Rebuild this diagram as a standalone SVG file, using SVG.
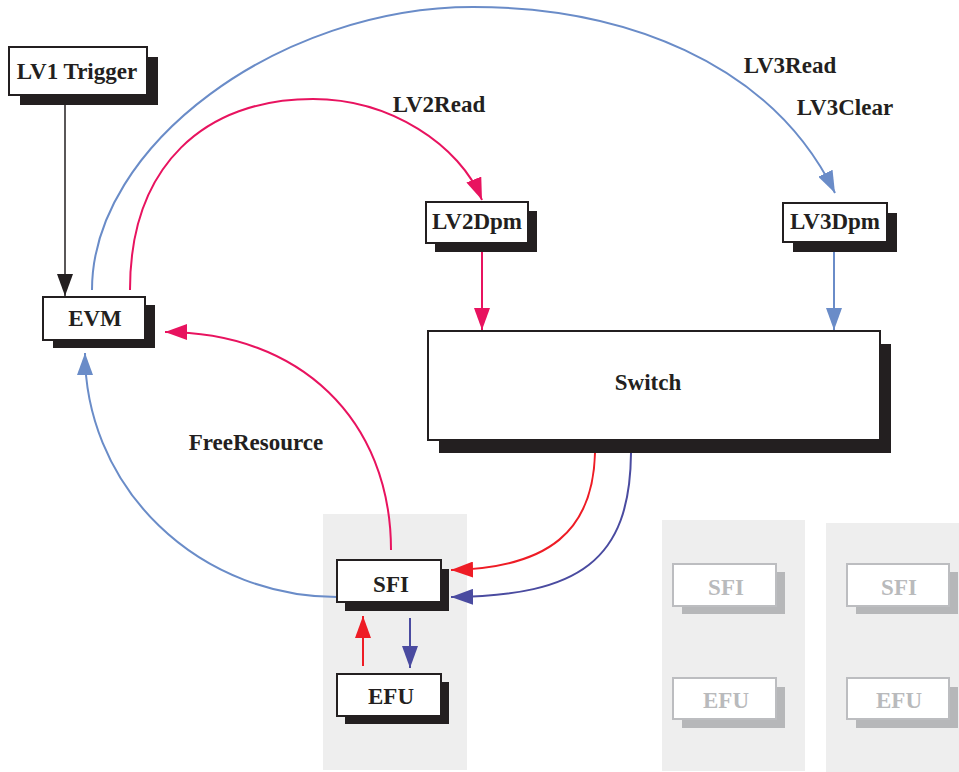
<svg xmlns="http://www.w3.org/2000/svg" width="959" height="772" viewBox="0 0 959 772">
  <style>
    .lbl { font-family: "Liberation Serif", "Times New Roman", serif; font-weight: bold; font-size: 23px; fill: #231f20; text-anchor: middle; }
    .dim { fill: #b9babc; }
    .front { fill: #ffffff; stroke: #231f20; stroke-width: 2; }
    .shadow { fill: #231f20; }
    .gfront { fill: #ffffff; stroke: #bcbdc0; stroke-width: 2; }
    .gshadow { fill: #b6b7b9; }
    .panel { fill: #eeeeee; }
    .c { fill: none; stroke-width: 2; }
    .k { stroke: #231f20; stroke-width: 1.5; }
    .b { stroke: #6a8cc8; }
    .p { stroke: #e8135f; }
    .r { stroke: #ee1c25; }
    .v { stroke: #4a4ba0; }
  </style>
  <defs>
    <marker id="ak" markerUnits="userSpaceOnUse" markerWidth="22" markerHeight="16" refX="22" refY="8" orient="auto"><path d="M0,0 L22,8 L0,16 z" fill="#231f20"/></marker>
    <marker id="ab" markerUnits="userSpaceOnUse" markerWidth="22" markerHeight="16" refX="22" refY="8" orient="auto"><path d="M0,0 L22,8 L0,16 z" fill="#6a8cc8"/></marker>
    <marker id="ap" markerUnits="userSpaceOnUse" markerWidth="22" markerHeight="16" refX="22" refY="8" orient="auto"><path d="M0,0 L22,8 L0,16 z" fill="#e8135f"/></marker>
    <marker id="ar" markerUnits="userSpaceOnUse" markerWidth="22" markerHeight="16" refX="22" refY="8" orient="auto"><path d="M0,0 L22,8 L0,16 z" fill="#ee1c25"/></marker>
    <marker id="av" markerUnits="userSpaceOnUse" markerWidth="22" markerHeight="16" refX="22" refY="8" orient="auto"><path d="M0,0 L22,8 L0,16 z" fill="#4a4ba0"/></marker>
  </defs>

  <rect width="959" height="772" fill="#ffffff"/>

  <!-- processing-node panels -->
  <g id="panels">
    <rect class="panel" x="323" y="514" width="144" height="256"/>
    <rect class="panel" x="662" y="520" width="143" height="251"/>
    <rect class="panel" x="826" y="523" width="133" height="249"/>
  </g>

  <!-- connectors -->
  <g id="connectors">
    <path class="c k" d="M65,105 L65,296" marker-end="url(#ak)"/>
    <path class="c b" d="M92,290 C92,145 280,7 473,7 C620,7 770,60 835,193" marker-end="url(#ab)"/>
    <path class="c p" d="M130,290 C130,165 205,99 313,99 C390,99 460,145 482,200" marker-end="url(#ap)"/>
    <path class="c p" d="M482,252 L482,330" marker-end="url(#ap)"/>
    <path class="c b" d="M834,252 L834,330" marker-end="url(#ab)"/>
    <path class="c p" d="M391,550 C391,420 300,332 165,332" marker-end="url(#ap)"/>
    <path class="c b" d="M337,597 A252,244 0 0 1 85,353" marker-end="url(#ab)"/>
    <path class="c r" d="M595,453 C593,530 550,568 451,570" marker-end="url(#ar)"/>
    <path class="c v" d="M631,453 C630,560 580,596 451,597" marker-end="url(#av)"/>
    <path class="c r" d="M363,666 L363,616" marker-end="url(#ar)"/>
    <path class="c v" d="M410,618 L410,668" marker-end="url(#av)"/>
  </g>

  <!-- connector labels -->
  <g id="labels">
    <text class="lbl" x="439" y="112">LV2Read</text>
    <text class="lbl" x="790" y="73">LV3Read</text>
    <text class="lbl" x="845" y="115">LV3Clear</text>
    <text class="lbl" x="256" y="450">FreeResource</text>
  </g>

  <g id="lv1trigger">
    <rect class="shadow" x="20" y="57" width="138" height="48"/>
    <rect class="front" x="9" y="47" width="138" height="48"/>
    <text class="lbl" x="77" y="79">LV1 Trigger</text>
  </g>

  <g id="evm">
    <rect class="shadow" x="53" y="305" width="102" height="43"/>
    <rect class="front" x="43" y="297" width="102" height="43"/>
    <text class="lbl" x="95" y="326">EVM</text>
  </g>

  <g id="lv2dpm">
    <rect class="shadow" x="435" y="211" width="102" height="41"/>
    <rect class="front" x="426" y="202" width="102" height="41"/>
    <text class="lbl" x="477" y="229">LV2Dpm</text>
  </g>

  <g id="lv3dpm">
    <rect class="shadow" x="793" y="213" width="104" height="39"/>
    <rect class="front" x="783" y="203" width="104" height="39"/>
    <text class="lbl" x="835" y="229">LV3Dpm</text>
  </g>

  <g id="switch">
    <rect class="shadow" x="439" y="344" width="452" height="109"/>
    <rect class="front" x="428" y="331" width="452" height="109"/>
    <text class="lbl" x="648" y="390">Switch</text>
  </g>

  <g id="sfi1">
    <rect class="shadow" x="345" y="569" width="104" height="42"/>
    <rect class="front" x="337" y="560" width="104" height="42"/>
    <text class="lbl" x="391" y="592">SFI</text>
  </g>

  <g id="efu1">
    <rect class="shadow" x="345" y="682" width="104" height="42"/>
    <rect class="front" x="337" y="674" width="104" height="42"/>
    <text class="lbl" x="391" y="704">EFU</text>
  </g>

  <g id="sfi2">
    <rect class="gshadow" x="682" y="572" width="103" height="42"/>
    <rect class="gfront" x="673" y="564" width="103" height="42"/>
    <text class="lbl dim" x="726" y="595">SFI</text>
  </g>

  <g id="efu2">
    <rect class="gshadow" x="682" y="687" width="103" height="41"/>
    <rect class="gfront" x="673" y="678" width="103" height="41"/>
    <text class="lbl dim" x="726" y="708">EFU</text>
  </g>

  <g id="sfi3">
    <rect class="gshadow" x="856" y="572" width="102" height="42"/>
    <rect class="gfront" x="847" y="564" width="102" height="42"/>
    <text class="lbl dim" x="899" y="595">SFI</text>
  </g>

  <g id="efu3">
    <rect class="gshadow" x="856" y="687" width="102" height="41"/>
    <rect class="gfront" x="847" y="678" width="102" height="41"/>
    <text class="lbl dim" x="899" y="708">EFU</text>
  </g>
</svg>
